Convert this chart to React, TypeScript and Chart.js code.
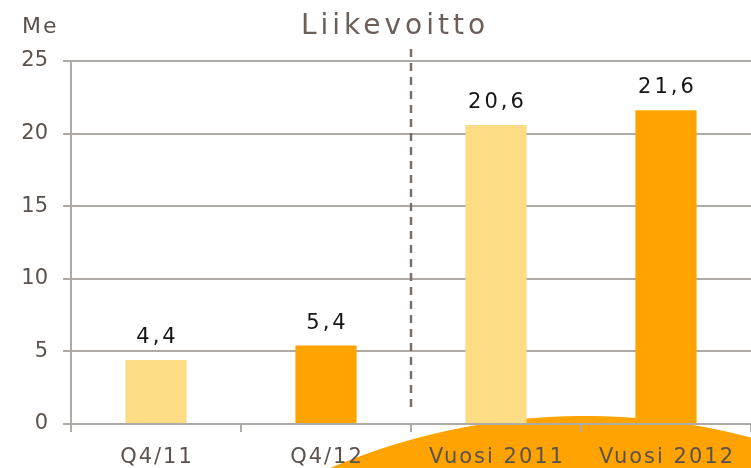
import React, { useEffect, useRef } from "react";
import { Chart, registerables } from "chart.js";

Chart.register(...registerables);

const categories = ["Q4/11", "Q4/12", "Vuosi 2011", "Vuosi 2012"];
const values = [4.4, 5.4, 20.6, 21.6];
const barColors = ["#FCDD83", "#FFA300", "#FCDD83", "#FFA300"];
const yMin = 0;
const yMax = 25;
const yStep = 5;
const titleText = "Liikevoitto";
const unitText = "Me";

const FONT = "'DejaVu Sans', Verdana, sans-serif";
const TEXT_GRAY = "#5c524d";
const GRID = "#b0aaa6";

const decorPlugin = {
  id: "decor",
  beforeDraw(chart: any) {
    const ctx = chart.ctx;
    ctx.save();
    // title
    ctx.fillStyle = "#6b5f59";
    ctx.font = `28px ${FONT}`;
    (ctx as any).letterSpacing = "4px";
    ctx.textAlign = "center";
    ctx.textBaseline = "alphabetic";
    ctx.fillText(titleText, 395, 34);
    // unit
    ctx.fillStyle = TEXT_GRAY;
    ctx.font = `22px ${FONT}`;
    (ctx as any).letterSpacing = "2px";
    ctx.textAlign = "left";
    ctx.fillText(unitText, 22, 33);
    ctx.restore();
  },
  afterDatasetsDraw(chart: any) {
    const ctx = chart.ctx;
    const xs = chart.scales.x;
    const area = chart.chartArea;
    ctx.save();
    // dashed separator between quarters and years
    const sx = Math.round((xs.getPixelForValue(1) + xs.getPixelForValue(2)) / 2);
    ctx.strokeStyle = "#7b6f69";
    ctx.lineWidth = 2.5;
    ctx.setLineDash([8, 6]);
    ctx.beginPath();
    ctx.moveTo(sx, area.top - 12);
    ctx.lineTo(sx, area.bottom - 16);
    ctx.stroke();
    ctx.setLineDash([]);
    // value labels
    const meta = chart.getDatasetMeta(0);
    ctx.fillStyle = "#151515";
    ctx.font = `21px ${FONT}`;
    (ctx as any).letterSpacing = "3px";
    ctx.textAlign = "center";
    ctx.textBaseline = "alphabetic";
    meta.data.forEach((bar: any, i: number) => {
      const txt = String(values[i]).replace(".", ",");
      ctx.fillText(txt, bar.x + 1.5, bar.y - 17);
    });
    ctx.restore();
  },
  afterDraw(chart: any) {
    const ctx = chart.ctx;
    const xs = chart.scales.x;
    const W = chart.width;
    const H = chart.height;
    ctx.save();
    ctx.fillStyle = TEXT_GRAY;
    ctx.font = `21px ${FONT}`;
    (ctx as any).letterSpacing = "2px";
    ctx.textAlign = "center";
    ctx.textBaseline = "alphabetic";
    categories.forEach((c, i) => {
      ctx.fillText(c, xs.getPixelForValue(i) + 1, 463);
    });
    // decorative orange sun shape, painted underneath everything already drawn
    const r = 650;
    const cx = 585;
    const cy = 416 + r;
    ctx.globalCompositeOperation = "destination-over";
    ctx.fillStyle = "#FFA300";
    for (let x = 0; x < W; x += 1) {
      const dx = x + 0.5 - cx;
      const y = cy - Math.sqrt(Math.max(0, r * r - dx * dx));
      if (y >= H) continue;
      ctx.fillRect(x, y, 1, H - y);
    }
    ctx.restore();
  },
};

export default function App() {
  const ref = useRef<HTMLCanvasElement>(null);
  useEffect(() => {
    document.body.style.margin = "0";
    const chart = new Chart(ref.current as HTMLCanvasElement, {
      type: "bar",
      data: {
        labels: categories,
        datasets: [
          {
            data: values,
            backgroundColor: barColors,
            borderWidth: 0,
            barPercentage: 0.36,
            categoryPercentage: 1,
          },
        ],
      },
      options: {
        animation: false,
        responsive: false,
        devicePixelRatio: 1,
        layout: { padding: { top: 61, left: 0, right: 0, bottom: 0 } },
        plugins: {
          legend: { display: false },
          tooltip: { enabled: false },
          title: { display: false },
        },
        scales: {
          x: {
            offset: true,
            grid: {
              drawOnChartArea: false,
              color: GRID,
              lineWidth: 2,
              tickLength: 8,
              offset: true,
            },
            border: { color: GRID, width: 2 },
            ticks: { color: "rgba(0,0,0,0)", font: { family: FONT, size: 21 } },
            afterFit: (s: any) => {
              s.height = 44;
            },
          },
          y: {
            min: yMin,
            max: yMax,
            ticks: {
              stepSize: yStep,
              color: TEXT_GRAY,
              font: { family: FONT, size: 21 },
              padding: 15,
            },
            grid: { color: GRID, lineWidth: 2, tickLength: 8 },
            border: { color: GRID, width: 2 },
            afterFit: (s: any) => {
              s.width = 71;
            },
          },
        },
      },
      plugins: [decorPlugin],
    });
    return () => chart.destroy();
  }, []);
  return (
    <div style={{ position: "fixed", left: 0, top: 0, width: 751, height: 468 }}>
      <canvas ref={ref} width={751} height={468} />
    </div>
  );
}
